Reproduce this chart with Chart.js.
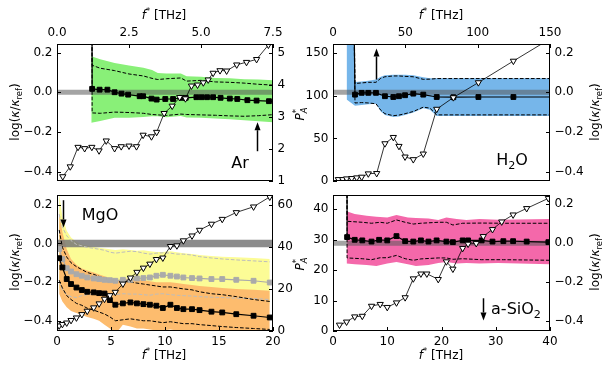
<!DOCTYPE html>
<html lang="en">
<head>
  <meta charset="UTF-8" />
  <title>log(κ/κref) and P_A* versus f*</title>
  <script src="https://cdn.jsdelivr.net/npm/chart.js"></script>
  <style>
    body { margin: 0; background: #fff; font-family: 'DejaVu Sans', sans-serif; }
    #fig { position: relative; width: 609px; height: 373px; overflow: hidden; }
    canvas { position: absolute; }
    .lbl { position: absolute; transform: translate(-50%, -50%); white-space: nowrap; font-size: 12px; line-height: 1; color: #000; }
    .rot { transform: translate(-50%, -50%) rotate(-90deg); }
    .tag { font-size: 16px; }
    sub, sup { font-size: 70%; line-height: 0; }
    .pa { display: inline-block; vertical-align: -0.35em; font-size: 70%; line-height: 0.95; text-align: left; }
  </style>
</head>
<body>
<div id="fig">
  <canvas id="cAr"></canvas>
  <canvas id="cH2O"></canvas>
  <canvas id="cMgO"></canvas>
  <canvas id="cSiO2"></canvas>

  <div class="lbl" style="left:164px;top:15px"><i>f</i><sup>*</sup> [THz]</div>
  <div class="lbl" style="left:441px;top:15px"><i>f</i><sup>*</sup> [THz]</div>
  <div class="lbl" style="left:164px;top:355px"><i>f</i><sup>*</sup> [THz]</div>
  <div class="lbl" style="left:441px;top:355px"><i>f</i><sup>*</sup> [THz]</div>

  <div class="lbl rot" style="left:15px;top:112px">log(<i>κ</i>/<i>κ</i><sub>ref</sub>)</div>
  <div class="lbl rot" style="left:15px;top:262px">log(<i>κ</i>/<i>κ</i><sub>ref</sub>)</div>
  <div class="lbl rot" style="left:595px;top:112px">log(<i>κ</i>/<i>κ</i><sub>ref</sub>)</div>
  <div class="lbl rot" style="left:595px;top:262px">log(<i>κ</i>/<i>κ</i><sub>ref</sub>)</div>

  <div class="lbl rot" style="left:300px;top:114px"><i>P</i><span class="pa">*<br><i>A</i></span></div>
  <div class="lbl rot" style="left:300px;top:264px"><i>P</i><span class="pa">*<br><i>A</i></span></div>

  <div class="lbl tag" style="left:240px;top:163px">Ar</div>
  <div class="lbl tag" style="left:512px;top:160px">H<sub>2</sub>O</div>
  <div class="lbl tag" style="left:100px;top:215px">MgO</div>
  <div class="lbl tag" style="left:516px;top:309px">a-SiO<sub>2</sub></div>
</div>

<script>
  const OFF = 2; // valeur hors échelle : départ divergent d'une courbe

  // ---- Ar ----
  const arXTicks = [0, 2.5, 5, 7.5];
  const arPTicks = [1, 2, 3, 4, 5];
  const arOnset = 1.19;
  const arX = [1.22, 1.48, 1.75, 2.00, 2.24, 2.47, 2.87, 2.99, 3.28, 3.46, 3.76, 4.03, 4.32, 4.47, 4.84, 5.02, 5.21, 5.42, 5.68, 6.00, 6.26, 6.61, 6.93, 7.36];
  const arLog = [0.017, 0.013, 0.013, 0.000, -0.007, -0.012, -0.020, -0.020, -0.032, -0.037, -0.034, -0.034, -0.028, -0.028, -0.025, -0.025, -0.025, -0.025, -0.028, -0.032, -0.034, -0.040, -0.042, -0.045];
  const arLogEnd = -0.046;
  const arBX = [1.19, 1.5, 2.0, 2.5, 3.0, 3.3, 3.5, 3.8, 4.3, 4.5, 5.0, 5.5, 6.0, 6.5, 7.0, 7.5];
  const arBandHi = [0.181, 0.166, 0.147, 0.135, 0.124, 0.112, 0.097, 0.094, 0.094, 0.080, 0.078, 0.072, 0.070, 0.066, 0.064, 0.060];
  const arBandLo = [-0.154, -0.145, -0.129, -0.128, -0.125, -0.121, -0.121, -0.126, -0.120, -0.127, -0.128, -0.132, -0.136, -0.141, -0.146, -0.151];
  const arDX = [1.19, 1.22, 1.5, 2.0, 2.5, 3.0, 3.3, 3.5, 3.8, 4.3, 4.5, 5.0, 5.5, 6.0, 6.5, 7.0, 7.5];
  const arDashHi = [OFF, 0.136, 0.121, 0.109, 0.092, 0.082, 0.070, 0.064, 0.068, 0.072, 0.056, 0.060, 0.052, 0.050, 0.046, 0.040, 0.036];
  const arDashLo = [OFF, -0.104, -0.106, -0.100, -0.102, -0.106, -0.112, -0.114, -0.117, -0.110, -0.112, -0.114, -0.116, -0.119, -0.121, -0.118, -0.113];
  const arTriX = [0.20, 0.46, 0.73, 0.96, 1.21, 1.46, 1.71, 2.00, 2.23, 2.50, 2.76, 2.99, 3.28, 3.46, 3.72, 4.00, 4.26, 4.46, 4.67, 4.88, 5.08, 5.25, 5.42, 5.66, 5.89, 6.24, 6.58, 6.93, 7.34];
  const arPA = [1.14, 1.45, 2.06, 2.02, 2.06, 1.95, 2.26, 2.02, 2.08, 2.10, 2.08, 2.44, 2.39, 2.53, 3.12, 3.35, 3.62, 3.58, 3.98, 4.01, 4.08, 4.17, 4.38, 4.46, 4.45, 4.64, 4.72, 4.81, 5.26];
  const arPAEnd = 5.44;
  const arArrow = { x: 6.93, from: -0.297, to: -0.151 };

  // ---- H2O ----
  const h2oXTicks = [0, 50, 100, 150];
  const h2oPTicks = [0, 50, 100, 150];
  const h2oOnset = 11.8;
  const h2oX = [15.2, 19.8, 24.4, 29.7, 35.9, 41.7, 45.6, 49.8, 55.5, 62.4, 71.7, 83.2, 100.5, 124.7];
  const h2oLog = [-0.012, -0.003, -0.003, -0.003, -0.020, -0.024, -0.020, -0.015, -0.007, -0.012, -0.024, -0.025, -0.024, -0.024];
  const h2oLogEnd = -0.024;
  const h2oBX = [9.4, 15.2, 19.8, 24.4, 29.7, 33, 35.9, 41.7, 45.6, 49.8, 55.5, 62.4, 67, 71.7, 83.2, 100.5, 124.7, 150];
  const h2oBandHi = [OFF, 0.051, 0.054, 0.058, 0.064, 0.078, 0.085, 0.088, 0.088, 0.088, 0.085, 0.076, 0.071, 0.071, 0.071, 0.071, 0.071, 0.071];
  const h2oBandLo = [-0.037, -0.068, -0.064, -0.061, -0.058, -0.097, -0.115, -0.125, -0.122, -0.114, -0.102, -0.080, -0.088, -0.119, -0.119, -0.119, -0.119, -0.119];
  const h2oDX = [11.8, 15.2, 19.8, 24.4, 29.7, 33, 35.9, 41.7, 45.6, 49.8, 55.5, 62.4, 67, 71.7, 150];
  const h2oDashHi = [OFF, 0.044, 0.047, 0.050, 0.050, 0.070, 0.078, 0.082, 0.082, 0.080, 0.078, 0.065, 0.066, 0.069, 0.069];
  const h2oDashLo = [OFF, -0.054, -0.052, -0.054, -0.058, -0.090, -0.108, -0.118, -0.115, -0.108, -0.097, -0.075, -0.080, -0.114, -0.114];
  const h2oTriX = [3.7, 6.7, 9.4, 12.9, 16.4, 19.8, 24.4, 30.2, 35.9, 41.7, 45.6, 49.8, 55.5, 62.4, 71.7, 83.2, 100.5, 124.7];
  const h2oPA = [1.9, 1.9, 2.7, 3.1, 3.9, 4.7, 8.6, 9.0, 44.0, 51.4, 40.9, 28.4, 25.3, 31.9, 84.5, 98.1, 115.7, 141.0];
  const h2oPAEnd = 167;
  const h2oArrow = { x: 29.7, from: 0.064, to: 0.22 };

  // ---- MgO ----
  const mgXTicks = [0, 5, 10, 15, 20];
  const mgPTicks = [0, 20, 40, 60];
  const mgX = [0.2, 0.5, 0.9, 1.3, 1.8, 2.3, 2.8, 3.4, 3.9, 4.4, 4.9, 5.4, 6.1, 6.8, 7.4, 8.0, 8.6, 9.2, 9.8, 10.5, 11.1, 11.7, 12.5, 13.2, 14.3, 15.3, 16.6, 18.2, 19.7];
  const mgLog = [-0.076, -0.124, -0.184, -0.210, -0.228, -0.241, -0.250, -0.253, -0.257, -0.259, -0.293, -0.317, -0.310, -0.305, -0.310, -0.314, -0.317, -0.322, -0.334, -0.317, -0.334, -0.340, -0.340, -0.345, -0.353, -0.357, -0.366, -0.374, -0.383];
  const mgGray = [-0.029, -0.081, -0.128, -0.145, -0.159, -0.167, -0.176, -0.181, -0.184, -0.188, -0.190, -0.193, -0.188, -0.188, -0.181, -0.179, -0.176, -0.167, -0.162, -0.167, -0.171, -0.176, -0.179, -0.181, -0.184, -0.184, -0.188, -0.193, -0.202];
  const mgPA = [2.5, 3.2, 3.9, 5.1, 6.3, 7.9, 9.5, 11.1, 13.0, 15.2, 16.9, 18.5, 22.4, 25.3, 28.0, 30.0, 31.9, 34.1, 34.8, 40.3, 40.6, 43.0, 45.3, 48.0, 50.9, 53.2, 56.4, 59.1, 63.8];
  const mgYelHi = [0.26, 0.134, 0.066, 0.031, 0.008, -0.005, -0.012, -0.018, -0.022, -0.026, -0.030, -0.034, -0.030, -0.034, -0.038, -0.035, -0.040, -0.044, -0.044, -0.040, -0.045, -0.050, -0.055, -0.060, -0.065, -0.068, -0.071, -0.075, -0.080];
  const mgYelLo = [-0.23, -0.27, -0.295, -0.305, -0.305, -0.295, -0.29, -0.285, -0.28, -0.28, -0.285, -0.29, -0.285, -0.287, -0.287, -0.29, -0.293, -0.287, -0.285, -0.29, -0.293, -0.295, -0.297, -0.30, -0.303, -0.305, -0.308, -0.31, -0.315];
  const mgGDashHi = [0.152, 0.085, 0.040, 0.015, -0.005, -0.012, -0.020, -0.025, -0.030, -0.035, -0.045, -0.050, -0.045, -0.040, -0.042, -0.050, -0.055, -0.050, -0.048, -0.050, -0.055, -0.055, -0.060, -0.068, -0.075, -0.080, -0.085, -0.090, -0.095];
  const mgGDashLo = [-0.20, -0.24, -0.265, -0.275, -0.28, -0.27, -0.265, -0.26, -0.255, -0.255, -0.26, -0.265, -0.26, -0.262, -0.262, -0.265, -0.268, -0.262, -0.26, -0.265, -0.268, -0.27, -0.272, -0.275, -0.278, -0.28, -0.283, -0.285, -0.29];
  const mgOrHi = [0.160, 0.060, -0.030, -0.080, -0.110, -0.130, -0.140, -0.150, -0.160, -0.170, -0.180, -0.190, -0.185, -0.180, -0.185, -0.190, -0.195, -0.200, -0.200, -0.200, -0.205, -0.210, -0.215, -0.220, -0.225, -0.230, -0.235, -0.240, -0.245];
  const mgOrLo = [-0.26, -0.30, -0.33, -0.35, -0.36, -0.37, -0.38, -0.39, -0.40, -0.42, -0.44, -0.47, -0.42, -0.43, -0.44, -0.44, -0.445, -0.45, -0.45, -0.445, -0.45, -0.46, -0.46, -0.46, -0.46, -0.46, -0.47, -0.47, -0.47];
  const mgDashHi = [0.070, -0.020, -0.070, -0.100, -0.120, -0.135, -0.150, -0.160, -0.170, -0.180, -0.190, -0.200, -0.195, -0.200, -0.205, -0.210, -0.215, -0.220, -0.225, -0.225, -0.230, -0.235, -0.240, -0.250, -0.260, -0.265, -0.275, -0.290, -0.300];
  const mgDashLo = [-0.190, -0.230, -0.270, -0.290, -0.310, -0.320, -0.335, -0.345, -0.355, -0.365, -0.380, -0.400, -0.395, -0.390, -0.395, -0.400, -0.400, -0.405, -0.410, -0.405, -0.410, -0.415, -0.415, -0.420, -0.425, -0.430, -0.435, -0.440, -0.445];
  const mgArrow = { x: 0.52, from: 0.224, to: 0.083 };

  // ---- a-SiO2 ----
  const sioXTicks = [0, 10, 20, 30, 40];
  const sioPTicks = [0, 10, 20, 30, 40];
  const sioOnset = 2.5;
  const sioX = [2.6, 4.0, 5.4, 7.1, 8.5, 10.0, 11.7, 13.3, 14.8, 16.2, 17.6, 19.1, 20.9, 22.1, 23.9, 24.9, 27.4, 29.4, 31.4, 33.2, 35.7, 39.7];
  const sioLog = [0.031, 0.017, 0.014, 0.008, 0.017, 0.014, 0.036, 0.010, 0.008, 0.014, 0.008, 0.014, 0.008, 0.005, 0.014, 0.014, 0.014, 0.008, 0.010, 0.010, 0.008, 0.005];
  const sioLogEnd = 0.005;
  const sioBX = [2.5, 4.0, 6.2, 8.0, 10.0, 11.7, 13.8, 15.3, 17.6, 19.4, 20.9, 22.8, 24.6, 27.0, 30.4, 40];
  const sioBandHi = [0.163, 0.149, 0.141, 0.136, 0.132, 0.144, 0.132, 0.129, 0.127, 0.119, 0.132, 0.124, 0.119, 0.124, 0.120, 0.124];
  const sioBandLo = [-0.105, -0.108, -0.112, -0.117, -0.105, -0.097, -0.108, -0.117, -0.112, -0.102, -0.097, -0.105, -0.102, -0.105, -0.102, -0.108];
  const sioDX = [2.5, 2.6, 5.4, 7.1, 8.7, 10.0, 11.7, 13.3, 14.8, 16.2, 19.4, 20.9, 22.1, 23.9, 27.4, 31.4, 40];
  const sioDashHi = [OFF, 0.112, 0.107, 0.102, 0.107, 0.102, 0.119, 0.107, 0.098, 0.102, 0.107, 0.107, 0.093, 0.102, 0.103, 0.102, 0.102];
  const sioDashLo = [OFF, -0.076, -0.080, -0.085, -0.075, -0.075, -0.063, -0.080, -0.088, -0.081, -0.076, -0.076, -0.083, -0.080, -0.085, -0.085, -0.088];
  const sioTriX = [1.2, 2.5, 4.0, 5.4, 7.1, 8.7, 10.0, 11.7, 13.3, 14.8, 16.2, 17.3, 19.4, 20.9, 22.1, 23.9, 24.9, 26.4, 27.7, 29.4, 31.1, 33.2, 35.7, 39.7];
  const sioPA = [2.0, 3.0, 4.7, 4.9, 8.2, 8.8, 7.8, 9.3, 11.0, 17.2, 18.8, 18.8, 17.0, 22.8, 20.4, 27.2, 28.6, 28.8, 31.1, 33.4, 35.9, 38.2, 40.3, 43.6];
  const sioArrow = { x: 27.6, from: -0.283, to: -0.397 };

  const logTicks = [-0.4, -0.2, 0, 0.2];

  // couleurs
  const GREEN = 'rgb(137,240,120)';
  const BLUE = 'rgb(118,182,234)';
  const PINK = 'rgb(244,104,170)';
  const YELLOW = 'rgb(252,252,150)';
  const ORANGE = 'rgb(253,188,110)';
  const REF = 'rgba(90,90,90,0.55)';
  const DASH = [3.7, 1.8];

  Chart.defaults.font.family = "'DejaVu Sans', sans-serif";
  Chart.defaults.font.size = 12;
  Chart.defaults.color = '#000';

  const fmt1 = v => v.toFixed(1).replace('-', '\u2212');
  const fmt0 = v => String(v);
  const pts = (xs, ys) => xs.map((x, i) => ({ x, y: ys[i] }));

  // bande remplie entre deux courbes
  const band = (xs, hi, lo, color, axis, order) => [
    { data: pts(xs, hi), yAxisID: axis, fill: '+1', backgroundColor: color, borderWidth: 0, borderColor: 'rgba(0,0,0,0)', pointRadius: 0, order, clip: 0 },
    { data: pts(xs, lo), yAxisID: axis, fill: false, borderWidth: 0, borderColor: 'rgba(0,0,0,0)', pointRadius: 0, order, clip: 0 }
  ];
  const line = (xs, ys, axis, color, width, order, dash) => ({
    data: pts(xs, ys), yAxisID: axis, borderColor: color, borderWidth: width, borderDash: dash || [],
    pointRadius: 0, fill: false, order, clip: 0
  });
  // marqueurs : débordent un peu du cadre comme dans l'original
  const marks = (xs, ys, axis, style, fillc, edge, r, order) => ({
    data: pts(xs, ys), yAxisID: axis, showLine: false, pointStyle: style, pointRotation: style === 'triangle' ? 180 : 0,
    pointRadius: r, pointBackgroundColor: fillc, pointBorderColor: edge, pointBorderWidth: 1, fill: false, order
  });

  function axis(pos, min, max, ticks, fmt, size) {
    const horiz = pos === 'top' || pos === 'bottom';
    return {
      type: 'linear', position: pos, min, max, bounds: 'data',
      grid: { display: false, drawTicks: false }, border: { display: false },
      ticks: { callback: fmt, padding: horiz ? 3.5 : 4.5, maxRotation: 0, minRotation: 0, autoSkip: false },
      afterBuildTicks: s => { s.ticks = ticks.map(value => ({ value })); },
      afterFit: s => {
        if (horiz) s.height = size; else s.width = size;
        s.paddingLeft = 0; s.paddingRight = 0; s.paddingTop = 0; s.paddingBottom = 0;
      }
    };
  }

  // cadre + graduations tournées vers l'intérieur
  const framePlugin = {
    id: 'frame',
    afterDraw(chart) {
      const { ctx, chartArea: a } = chart;
      ctx.save();
      ctx.strokeStyle = '#000';
      ctx.lineWidth = 1;
      ctx.strokeRect(Math.round(a.left) + 0.5, Math.round(a.top) + 0.5, Math.round(a.right - a.left) - 1, Math.round(a.bottom - a.top) - 1);
      ctx.beginPath();
      Object.values(chart.scales).forEach(s => {
        s.ticks.forEach(t => {
          const p = Math.round(s.getPixelForValue(t.value)) + 0.5;
          if (s.position === 'top') { ctx.moveTo(p, a.top); ctx.lineTo(p, a.top + 4); }
          if (s.position === 'bottom') { ctx.moveTo(p, a.bottom); ctx.lineTo(p, a.bottom - 4); }
          if (s.position === 'left') { ctx.moveTo(a.left, p); ctx.lineTo(a.left + 4, p); }
          if (s.position === 'right') { ctx.moveTo(a.right, p); ctx.lineTo(a.right - 4, p); }
        });
      });
      ctx.stroke();
      ctx.restore();
    }
  };

  // flèches verticales placées en coordonnées de données
  const arrowPlugin = {
    id: 'arrows',
    afterDatasetsDraw(chart, args, opts) {
      const ctx = chart.ctx;
      (opts.list || []).forEach(a => {
        const px = Math.round(chart.scales.x.getPixelForValue(a.x)) + 0.5;
        const ys = chart.scales[a.axis];
        const p0 = ys.getPixelForValue(a.from), p1 = ys.getPixelForValue(a.to);
        const dir = Math.sign(p1 - p0), head = 8, half = 3;
        ctx.save();
        ctx.strokeStyle = '#000'; ctx.fillStyle = '#000'; ctx.lineWidth = 1.5;
        ctx.beginPath(); ctx.moveTo(px, p0); ctx.lineTo(px, p1 - dir * head); ctx.stroke();
        ctx.beginPath(); ctx.moveTo(px, p1); ctx.lineTo(px - half, p1 - dir * head); ctx.lineTo(px + half, p1 - dir * head); ctx.closePath(); ctx.fill();
        ctx.restore();
      });
    }
  };

  function makeChart(id, box, scales, datasets, arrows) {
    const c = document.getElementById(id);
    c.width = box.w; c.height = box.h;
    c.style.left = box.l + 'px'; c.style.top = box.t + 'px';
    return new Chart(c, {
      type: 'line',
      data: { datasets },
      options: {
        responsive: false, animation: false, events: [], devicePixelRatio: 1,
        layout: { padding: box.pad },
        elements: { line: { tension: 0 } },
        plugins: { legend: { display: false }, tooltip: { enabled: false }, arrows: { list: arrows } },
        scales
      },
      plugins: [framePlugin, arrowPlugin]
    });
  }

  // Ar (haut gauche)
  makeChart('cAr', { l: 0, t: 0, w: 305, h: 190, pad: { bottom: 9 } }, {
    x: axis('top', 0, 7.5, arXTicks, fmt1, 44),
    yL: axis('left', -0.447, 0.243, logTicks, fmt1, 57),
    yR: axis('right', 1, 5.29, arPTicks, fmt0, 32)
  }, [
    ...band(arBX, arBandHi, arBandLo, GREEN, 'yL', 10),
    line([0, 7.5], [0, 0], 'yL', REF, 5, 9),
    line(arDX, arDashHi, 'yL', '#000', 1, 7, DASH),
    line(arDX, arDashLo, 'yL', '#000', 1, 7, DASH),
    line([arOnset, ...arX, 7.5], [OFF, ...arLog, arLogEnd], 'yL', '#000', 1.2, 5),
    marks(arX, arLog, 'yL', 'rect', '#000', '#000', 3.4, 4),
    line([...arTriX, 7.5], [...arPA, arPAEnd], 'yR', '#000', 0.8, 3),
    marks(arTriX, arPA, 'yR', 'triangle', '#fff', '#000', 3.6, 2)
  ], [{ ...arArrow, axis: 'yL' }]);

  // H2O (haut droite)
  makeChart('cH2O', { l: 305, t: 0, w: 304, h: 190, pad: { bottom: 9 } }, {
    x: axis('top', 0, 150, h2oXTicks, fmt0, 44),
    yL: axis('left', 0, 161, h2oPTicks, fmt0, 28),
    yR: axis('right', -0.447, 0.243, logTicks, fmt1, 59)
  }, [
    ...band(h2oBX, h2oBandHi, h2oBandLo, BLUE, 'yR', 10),
    line([0, 150], [0, 0], 'yR', REF, 5, 9),
    line(h2oDX, h2oDashHi, 'yR', '#000', 1, 7, DASH),
    line(h2oDX, h2oDashLo, 'yR', '#000', 1, 7, DASH),
    line([h2oOnset, ...h2oX, 150], [OFF, ...h2oLog, h2oLogEnd], 'yR', '#000', 1.2, 5),
    marks(h2oX, h2oLog, 'yR', 'rect', '#000', '#000', 3.4, 4),
    line([...h2oTriX, 150], [...h2oPA, h2oPAEnd], 'yL', '#000', 0.8, 3),
    marks(h2oTriX, h2oPA, 'yL', 'triangle', '#fff', '#000', 3.6, 2)
  ], [{ ...h2oArrow, axis: 'yR' }]);

  // MgO (bas gauche)
  makeChart('cMgO', { l: 0, t: 190, w: 305, h: 183, pad: { top: 4 } }, {
    x: axis('bottom', 0, 20, mgXTicks, fmt0, 42),
    yL: axis('left', -0.453, 0.251, logTicks, fmt1, 57),
    yR: axis('right', 0, 64.7, mgPTicks, fmt0, 32)
  }, [
    ...band(mgX, mgYelHi, mgYelLo, YELLOW, 'yL', 12),
    ...band(mgX, mgOrHi, mgOrLo, ORANGE, 'yL', 11),
    line([0, 20], [0, 0], 'yL', 'rgba(120,120,120,0.85)', 7.5, 9),
    line(mgX, mgGDashHi, 'yL', '#bdbdbd', 1, 8, DASH),
    line(mgX, mgGDashLo, 'yL', '#bdbdbd', 1, 8, DASH),
    line(mgX, mgDashHi, 'yL', '#000', 1, 7, DASH),
    line(mgX, mgDashLo, 'yL', '#000', 1, 7, DASH),
    line(mgX, mgGray, 'yL', '#aaaaaa', 1.2, 6),
    marks(mgX, mgGray, 'yL', 'rect', '#aaaaaa', '#aaaaaa', 3.4, 5),
    line(mgX, mgLog, 'yL', '#000', 1.2, 4),
    marks(mgX, mgLog, 'yL', 'rect', '#000', '#000', 3.4, 3),
    line(mgX, mgPA, 'yR', '#000', 0.8, 2),
    marks(mgX, mgPA, 'yR', 'triangle', '#fff', '#000', 3.6, 1)
  ], [{ ...mgArrow, axis: 'yL' }]);

  // a-SiO2 (bas droite)
  makeChart('cSiO2', { l: 305, t: 190, w: 304, h: 183, pad: { top: 4 } }, {
    x: axis('bottom', 0, 40, sioXTicks, fmt0, 42),
    yL: axis('left', 0, 44.7, sioPTicks, fmt0, 28),
    yR: axis('right', -0.451, 0.247, logTicks, fmt1, 59)
  }, [
    ...band(sioBX, sioBandHi, sioBandLo, PINK, 'yR', 10),
    line([0, 40], [0, 0], 'yR', REF, 5, 9),
    line(sioDX, sioDashHi, 'yR', '#000', 1, 7, DASH),
    line(sioDX, sioDashLo, 'yR', '#000', 1, 7, DASH),
    line([sioOnset, ...sioX, 40], [OFF, ...sioLog, sioLogEnd], 'yR', '#000', 1.2, 5),
    marks(sioX, sioLog, 'yR', 'rect', '#000', '#000', 3.4, 4),
    line(sioTriX, sioPA, 'yL', '#000', 0.8, 3),
    marks(sioTriX, sioPA, 'yL', 'triangle', '#fff', '#000', 3.6, 2)
  ], [{ ...sioArrow, axis: 'yR' }]);
</script>
</body>
</html>
